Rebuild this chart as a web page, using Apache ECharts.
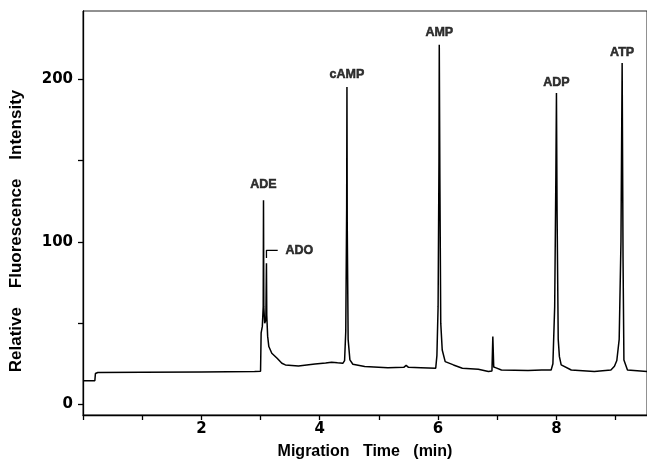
<!DOCTYPE html>
<html>
<head>
<meta charset="utf-8">
<script src="https://cdn.jsdelivr.net/npm/echarts@6/dist/echarts.min.js"></script>
<style>
html,body{margin:0;padding:0;background:#fff;}
#chart{width:647px;height:467px;}
</style>
</head>
<body>
<div id="chart"></div>
<script>
// Migration time (min)
const times = [0, 0.2, 0.21, 0.25, 1.0, 2.0, 2.9, 3.0,
  3.01, 3.03, 3.045, 3.05, 3.055, 3.07, 3.09, 3.095, 3.10, 3.105, 3.12, 3.14, 3.19, 3.28, 3.36, 3.42, 3.64, 3.92, 4.1, 4.2, 4.3, 4.39,
  4.42, 4.44, 4.455, 4.46, 4.465, 4.48, 4.51, 4.56, 4.76, 5.15, 5.42, 5.46, 5.5, 5.71, 5.96,
  5.98, 6.0, 6.015, 6.02, 6.03, 6.045, 6.07, 6.12, 6.26, 6.41, 6.68, 6.85,
  6.91, 6.925, 6.94, 6.96, 6.98, 7.07, 7.52, 7.75, 7.77, 7.8, 7.91,
  7.94, 7.97, 7.99, 8.0, 8.01, 8.03, 8.05, 8.08, 8.25, 8.64, 8.92,
  8.98, 9.02, 9.06, 9.09, 9.11, 9.125, 9.14, 9.2, 9.53];
// Relative fluorescence intensity
const intensity = [14.6, 14.6, 19.0, 19.6, 19.8, 20.0, 20.2, 20.4,
  44, 48, 60, 125.6, 60, 50, 52, 70, 86.9, 55, 42, 35.6, 31.5, 28.4, 25.3, 24.3, 23.7, 24.9, 25.5, 26.0, 25.6, 25.3,
  27, 45, 120, 195.2, 110, 40, 27.4, 24.7, 23.3, 22.6, 22.8, 24.0, 22.8, 22.6, 22.3,
  30, 60, 150, 221.2, 140, 50, 33.5, 26.3, 24.3, 22.3, 21.7, 20.2,
  20.5, 41.7, 23, 24, 22.5, 21.2, 20.8, 21.2, 21.8, 21.2, 21.2,
  25, 60, 140, 191.5, 120, 40, 29.4, 24.3, 21.2, 20.2, 21.2,
  23.5, 27, 40, 100, 210.0, 90, 27.4, 21.2, 20.2];

// Peak labels
const peakNames = ['ADE', 'cAMP', 'AMP', 'ADP', 'ATP'];
const peakLabelX = [3.05, 4.46, 6.02, 8.0, 9.11];
const peakLabelY = [135.1, 202.7, 228.9, 198.2, 216.4];
const adoName = 'ADO';
const adoLabelX = 3.42;
const adoLabelY = 94.8;
const bracketX = [3.10, 3.10, 3.29];
const bracketY = [90, 94.8, 94.8];

// Axis ticks
const xTicks = [0, 1, 2, 3, 4, 5, 6, 7, 8, 9];
const xTickLabels = [2, 4, 6, 8];
const yTicks = [0, 50, 100, 150, 200];
const yTickLabels = [0, 100, 200];

const chart = echarts.init(document.getElementById('chart'), null, {renderer: 'canvas'});
const tickFont = {fontFamily: 'DejaVu Sans', fontWeight: 'bold', fontSize: 15, color: '#000'};
const titleFont = {fontFamily: 'Liberation Sans', fontWeight: 'bold', fontSize: 16, color: '#000'};

const labelData = peakNames.map((n, i) => ({name: n, value: [peakLabelX[i], peakLabelY[i]]}));
labelData.push({name: adoName, value: [adoLabelX, adoLabelY],
  label: {position: 'right', distance: 0, align: 'left'}});

chart.setOption({
  animation: false,
  backgroundColor: '#fff',
  grid: {left: 81, right: -3, top: 11, bottom: 52, show: true, borderColor: '#222', borderWidth: 1},
  xAxis: {
    type: 'value', min: 0, max: 9.53,
    name: 'Migration   Time   (min)', nameLocation: 'middle', nameGap: 29,
    nameTextStyle: titleFont,
    axisLine: {show: true, onZero: false, lineStyle: {color: '#000', width: 1.3}},
    axisTick: {show: true, inside: false, length: 5, lineStyle: {color: '#000', width: 1.3}, customValues: xTicks},
    axisLabel: Object.assign({margin: 7, customValues: xTickLabels}, tickFont),
    splitLine: {show: false}
  },
  yAxis: {
    type: 'value', min: -6.5, max: 242,
    name: 'Relative    Fluorescence    Intensity', nameLocation: 'middle', nameGap: 58, nameRotate: 90,
    nameTextStyle: Object.assign({}, titleFont, {fontSize: 17, padding: [0, 36, 0, 0]}),
    axisLine: {show: true, onZero: false, lineStyle: {color: '#000', width: 1.3}},
    axisTick: {show: true, inside: false, length: 5, lineStyle: {color: '#000', width: 1.3}, customValues: yTicks},
    axisLabel: Object.assign({margin: 10, customValues: yTickLabels}, tickFont),
    splitLine: {show: false}
  },
  series: [
    {
      type: 'line', showSymbol: false, symbol: 'none',
      data: times.map((t, i) => [t, intensity[i]]),
      lineStyle: {color: '#000', width: 1.5}
    },
    {
      type: 'line', showSymbol: false, symbol: 'none',
      data: bracketX.map((x, i) => [x, bracketY[i]]),
      lineStyle: {color: '#000', width: 1.3}
    },
    {
      type: 'scatter', symbolSize: 0,
      data: labelData,
      label: {show: true, position: 'inside', formatter: p => p.name,
        fontFamily: 'Liberation Sans', fontWeight: 'bold', fontSize: 12.5, color: '#000',
        textBorderColor: '#000', textBorderWidth: 0.5}
    }
  ]
});
</script>
</body>
</html>
